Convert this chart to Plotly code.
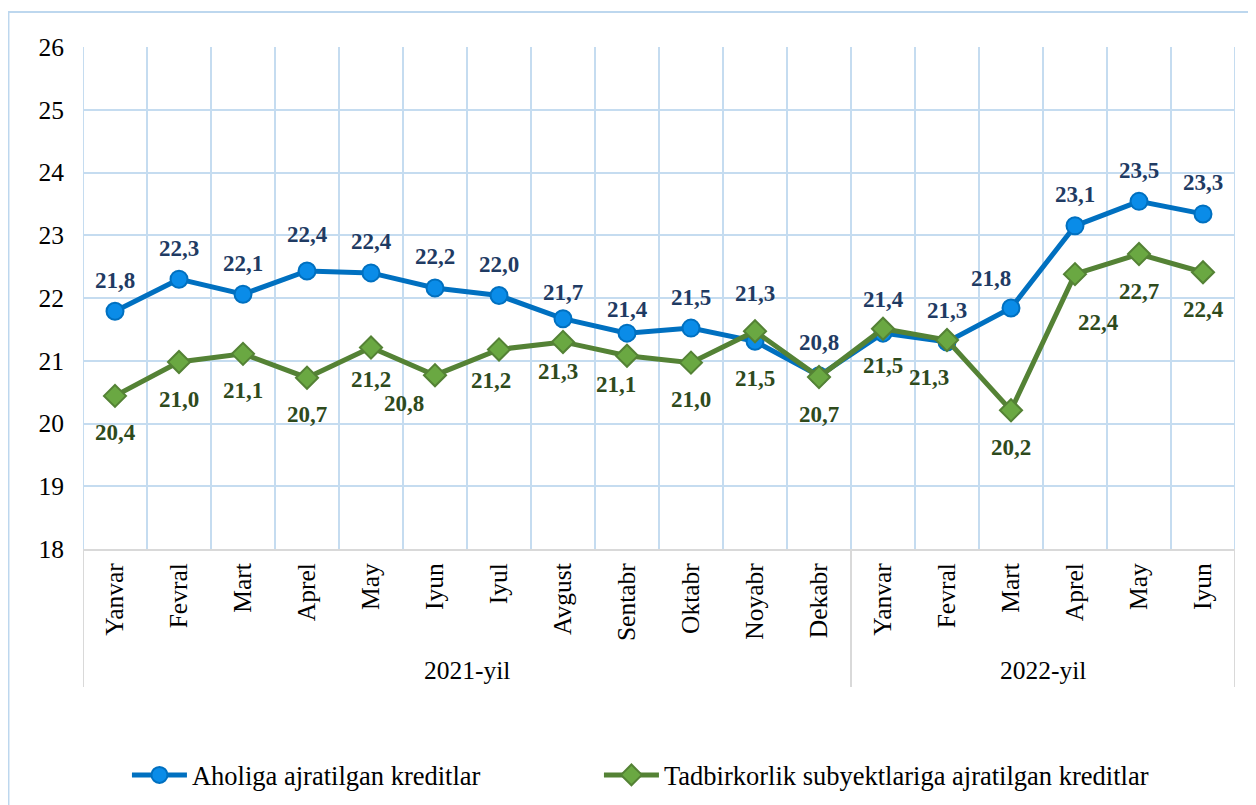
import plotly.graph_objects as go

months = ["Yanvar", "Fevral", "Mart", "Aprel", "May", "Iyun", "Iyul", "Avgust",
          "Sentabr", "Oktabr", "Noyabr", "Dekabr",
          "Yanvar", "Fevral", "Mart", "Aprel", "May", "Iyun"]
years = ["2021-yil"] * 12 + ["2022-yil"] * 6
aholi = [21.79, 22.30, 22.06, 22.43, 22.40, 22.16, 22.04, 21.67, 21.44, 21.52, 21.31, 20.76,
         21.44, 21.30, 21.84, 23.15, 23.54, 23.34]
tadbir = [20.44, 20.98, 21.11, 20.73, 21.21, 20.77, 21.18, 21.30, 21.08, 20.97, 21.47, 20.74,
          21.51, 21.33, 20.21, 22.38, 22.70, 22.41]
series_names = ["Aholiga ajratilgan kreditlar",
                "Tadbirkorlik subyektlariga ajratilgan kreditlar"]
y_ticks = [18, 19, 20, 21, 22, 23, 24, 25, 26]

# label placement nudges (pixels): index -> (xshift, yshift)
blue_label_nudge = {3: (0, 37), 7: (0, 26), 8: (0, 24), 10: (0, 48), 11: (0, 33),
                    12: (0, 34), 14: (-20, 30)}
green_label_nudge = {4: (0, -32), 5: (-31, -28), 6: (-8, -31), 7: (-5, -30), 8: (-11, -29),
                     10: (0, -47), 13: (-18, -37), 15: (23, -48)}

FONT = "Liberation Serif"
GRID = "#C5DCF0"
AXIS = "#D9D9D9"
AX_SIZE = 25.5

x = list(range(len(months)))


def fmt(v):
    return f"{v:.1f}".replace(".", ",")


fig = go.Figure()
fig.add_trace(go.Scatter(
    x=x, y=aholi, name=series_names[0], mode="lines+markers", legend="legend",
    line=dict(color="#0070C0", width=5),
    marker=dict(symbol="circle", size=17, color="#0A8CE8",
                line=dict(color="#0070C0", width=2)),
))
fig.add_trace(go.Scatter(
    x=x, y=tadbir, name=series_names[1], mode="lines+markers", legend="legend2",
    line=dict(color="#548235", width=5),
    marker=dict(symbol="diamond", size=17, color="#6AA842",
                line=dict(color="#548235", width=2)),
))

annotations = []
for i, v in enumerate(aholi):
    dx, dy = blue_label_nudge.get(i, (0, 31))
    annotations.append(dict(x=i, y=v, xref="x", yref="y", text=fmt(v), showarrow=False,
                            xshift=dx, yshift=dy,
                            font=dict(family=FONT, size=23, color="#1F3B63", weight="bold")))
for i, v in enumerate(tadbir):
    dx, dy = green_label_nudge.get(i, (0, -37))
    annotations.append(dict(x=i, y=v, xref="x", yref="y", text=fmt(v), showarrow=False,
                            xshift=dx, yshift=dy,
                            font=dict(family=FONT, size=23, color="#2E4A1C", weight="bold")))

# year group labels and dividers
groups = []
for i, yv in enumerate(years):
    if not groups or groups[-1][0] != yv:
        groups.append([yv, i, i])
    else:
        groups[-1][2] = i

shapes = []
for name, s, e in groups:
    annotations.append(dict(x=(s + e) / 2, y=-0.243, xref="x", yref="paper", text=name,
                            showarrow=False, yanchor="middle",
                            font=dict(family=FONT, size=AX_SIZE, color="#000000")))
    shapes.append(dict(type="line", xref="x", yref="paper", x0=s - 0.5, x1=s - 0.5,
                       y0=0, y1=-0.275, line=dict(color=AXIS, width=2)))
shapes.append(dict(type="line", xref="x", yref="paper", x0=groups[-1][2] + 0.5,
                   x1=groups[-1][2] + 0.5, y0=0, y1=-0.275, line=dict(color=AXIS, width=2)))

# outer chart border
shapes.append(dict(type="rect", xref="paper", yref="paper", x0=-0.0647, x1=1.2,
                   y0=-0.7, y1=1.0697, line=dict(color="#BDD7EE", width=2),
                   fillcolor="rgba(0,0,0,0)", layer="below"))

legend_common = dict(orientation="h", xref="container", yref="container",
                     y=0.047, xanchor="left", yanchor="middle",
                     font=dict(family=FONT, size=26.5, color="#000000"),
                     itemwidth=55, bgcolor="rgba(0,0,0,0)")

fig.update_layout(
    width=1256, height=805,
    margin=dict(l=75, r=29, t=39, b=264),
    paper_bgcolor="white", plot_bgcolor="white",
    font=dict(family=FONT, size=AX_SIZE, color="#000000"),
    showlegend=True,
    legend=dict(x=0.0947, **legend_common),
    legend2=dict(x=0.4705, **legend_common),
    annotations=annotations,
    shapes=shapes,
    xaxis=dict(range=[-0.5, len(months) - 0.5], tickmode="array", tickvals=x,
               ticktext=months, tickangle=-90, showgrid=False,
               showline=True, linecolor=AXIS, linewidth=2, zeroline=False,
               tickfont=dict(family=FONT, size=AX_SIZE), ticks="", ticklabelstandoff=2),
    yaxis=dict(range=[18, 26], tickmode="array", tickvals=y_ticks,
               ticktext=[str(t) for t in y_ticks], showgrid=True, gridcolor=GRID,
               gridwidth=2, zeroline=False, showline=False,
               tickfont=dict(family=FONT, size=AX_SIZE), ticklabelstandoff=18),
)

# vertical grid lines at category boundaries
for b in range(len(months) + 1):
    fig.add_shape(type="line", xref="x", yref="paper", x0=b - 0.5, x1=b - 0.5, y0=0, y1=1,
                  line=dict(color=GRID, width=2), layer="below")

fig.write_html("out.html")
